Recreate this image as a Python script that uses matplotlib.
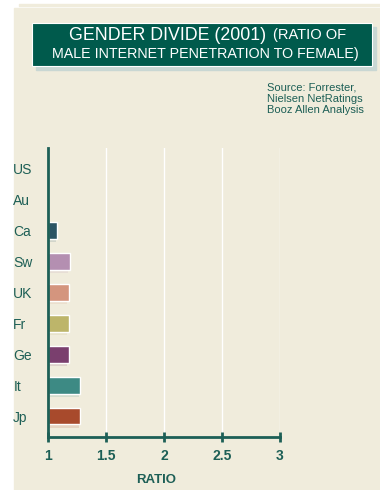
import numpy as np
import matplotlib
matplotlib.use("Agg")
import matplotlib.pyplot as plt
from matplotlib.patches import Rectangle

# data
countries = ["US", "Au", "Ca", "Sw", "UK", "Fr", "Ge", "It", "Jp"]
ratios = [1.0, 1.0, 1.08, 1.19, 1.18, 1.18, 1.18, 1.28, 1.28]
bar_colors = ["#2b5464", "#2b5464", "#2b5464", "#b48fb1", "#d4957e",
              "#bdb56a", "#7a3f6e", "#3d8a84", "#a84a2c"]
xticks = [1, 1.5, 2, 2.5, 3]
xtick_labels = ["1", "1.5", "2", "2.5", "3"]

cream = "#f0ecdc"
teal = "#1d5f56"
plt.rcParams["font.family"] = ["Liberation Sans", "DejaVu Sans"]

fig = plt.figure(figsize=(3.8, 4.9), dpi=100)
W, H = 380.0, 490.0

# cream panel + thin strip on top
fig.patches.append(Rectangle((14 / W, 0), 1, 1 - 8 / H, transform=fig.transFigure,
                             color=cream, zorder=-5))
fig.patches.append(Rectangle((19 / W, 1 - 6 / H), 1, 2 / H, transform=fig.transFigure,
                             color=cream, zorder=-5))

# title box with shadow
fig.patches.append(Rectangle((36 / W, 1 - 70 / H), 340 / W, 43 / H,
                             transform=fig.transFigure, color="#c9d7d3", zorder=-4))
fig.patches.append(Rectangle((32 / W, 1 - 66 / H), 340 / W, 43 / H,
                             transform=fig.transFigure, fc="#005a4c", zorder=-3,
                             ec="white", lw=0.8))
fig.text(69 / W, 1 - 35 / H, "GENDER DIVIDE (2001)", ha="left", va="center",
         color="white", fontsize=12.8)
fig.text(273 / W, 1 - 35 / H, "(RATIO OF", ha="left", va="center",
         color="white", fontsize=10.5)
fig.text(205 / W, 1 - 54 / H, "MALE INTERNET PENETRATION TO FEMALE)", ha="center",
         va="center", color="white", fontsize=10.3)

# source note
fig.text(267 / W, 1 - 83 / H, "Source: Forrester,\nNielsen NetRatings\nBooz Allen Analysis",
         ha="left", va="top", color=teal, fontsize=8.0, linespacing=1.1)

ax = fig.add_axes([48 / W, 1 - 437 / H, 232 / W, 289 / H])
ax.set_zorder(5)
ax.set_facecolor(cream)
y = np.arange(len(countries))

# faint shadow under each bar, then the bar itself
ax.barh(y + 0.1, np.array(ratios) - 1, left=0.985, height=0.55,
        color=bar_colors, alpha=0.15, zorder=2)
ax.barh(y, np.array(ratios) - 1, left=1, height=0.55, color=bar_colors,
        edgecolor="white", linewidth=1, zorder=3)

ax.set_xlim(1, 3)
ax.set_ylim(len(countries) - 1 + 0.68, -0.68)
ax.set_yticks(y)
ax.set_yticklabels(countries)
ax.set_xticks(xticks)
ax.set_xticklabels(xtick_labels, fontweight="bold")
ax.grid(axis="x", color="white", lw=1, zorder=1)
for s in ["top", "right"]:
    ax.spines[s].set_visible(False)
for s in ["left", "bottom"]:
    ax.spines[s].set_color(teal)
    ax.spines[s].set_linewidth(2)
    ax.spines[s].set_zorder(4)
ax.tick_params(axis="y", length=0, pad=25, labelcolor=teal, labelsize=10)
for lab in ax.get_yticklabels():
    lab.set_ha("left")
ax.tick_params(axis="x", direction="inout", length=7, width=2, color=teal,
               labelcolor=teal, labelsize=10, pad=5)
ax.set_xlabel("RATIO", color=teal, fontweight="bold", fontsize=9.5,
              labelpad=8, x=0.465)

fig.savefig("out.png", dpi=100, facecolor="white")
